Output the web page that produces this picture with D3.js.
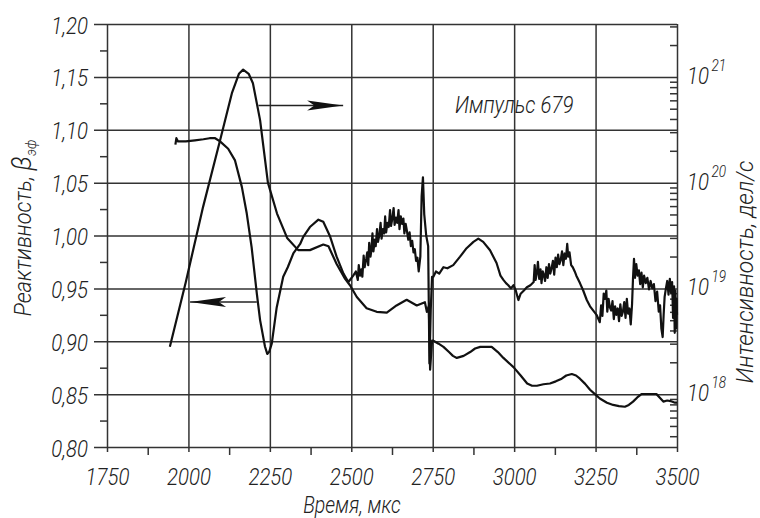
<!DOCTYPE html>
<html>
<head>
<meta charset="utf-8">
<script src="https://cdn.jsdelivr.net/npm/d3@7"></script>
<style>
  body { margin: 0; background: #fff; }
  svg text {
    font-family: Roboto, "DejaVu Sans", sans-serif;
    font-style: italic;
    font-weight: 300;
    fill: #222;
  }
  .tick line { stroke: #333; stroke-width: 1.5; }
  .domain { display: none; }
</style>
</head>
<body>
<div id="chart"></div>
<script>
// axis ticks
const xTicks = [1750, 2000, 2250, 2500, 2750, 3000, 3250, 3500];
const xMinor = [1875, 2125, 2375, 2625, 2875, 3125, 3375];
const yTicks = [0.80, 0.85, 0.90, 0.95, 1.00, 1.05, 1.10, 1.15, 1.20];
const yLabels = ["0,80", "0,85", "0,90", "0,95", "1,00", "1,05", "1,10", "1,15", "1,20"];
const yMinor = [0.825, 0.875, 0.925, 0.975, 1.025, 1.075, 1.125, 1.175];
const rightExp = [18, 19, 20, 21];

// reactivity (left axis): [time, beta]
const reactivity = [
  [1960, 1.086], [1963, 1.092], [1968, 1.089], [1992, 1.089], [2020, 1.090], [2046, 1.091],
  [2065, 1.092], [2082, 1.092], [2097, 1.089], [2122, 1.082], [2143, 1.071], [2164, 1.046],
  [2179, 1.021], [2194, 0.989], [2210, 0.945], [2220, 0.920], [2235, 0.895], [2242, 0.888],
  [2248, 0.890], [2256, 0.898], [2271, 0.932], [2291, 0.961], [2305, 0.970], [2322, 0.983],
  [2343, 0.992], [2353, 0.999], [2373, 1.008], [2399, 1.015], [2414, 1.013], [2435, 0.999],
  [2455, 0.980], [2476, 0.964], [2491, 0.956], [2506, 0.962], [2514, 0.966],
  [2520, 0.958], [2523, 0.972], [2527, 0.962], [2531, 0.968], [2534, 0.961], [2538, 0.981],
  [2541, 0.970], [2546, 0.978], [2549, 0.984], [2552, 0.972], [2555, 0.993], [2559, 0.980],
  [2562, 0.987], [2565, 1.002], [2568, 0.985], [2572, 0.996], [2575, 0.990], [2579, 1.006],
  [2582, 0.994], [2586, 1.000], [2590, 1.012], [2593, 0.997], [2597, 1.006], [2601, 1.002],
  [2604, 1.018], [2607, 1.003], [2611, 1.012], [2615, 1.008], [2619, 1.024], [2622, 1.009],
  [2626, 1.016], [2630, 1.026], [2633, 1.010], [2637, 1.017], [2641, 1.012], [2645, 1.024],
  [2648, 1.006], [2652, 1.018], [2656, 1.011], [2660, 1.016], [2663, 1.002], [2667, 1.011],
  [2671, 1.004], [2675, 0.996], [2679, 1.003], [2683, 0.990], [2687, 0.995], [2691, 0.984],
  [2695, 0.987], [2699, 0.976], [2703, 0.979], [2707, 0.966],
  [2712, 0.980], [2716, 1.037], [2720, 1.055], [2724, 1.020], [2730, 1.000], [2736, 0.990],
  [2740, 0.879], [2744, 0.930], [2748, 0.961], [2752, 0.961], [2760, 0.966], [2770, 0.964],
  [2783, 0.970], [2795, 0.969], [2813, 0.972], [2834, 0.980], [2854, 0.988], [2875, 0.994],
  [2890, 0.997], [2905, 0.994], [2926, 0.986], [2946, 0.974], [2958, 0.962], [2967, 0.958],
  [2975, 0.955], [2982, 0.953], [2990, 0.950], [2998, 0.953], [3005, 0.948], [3013, 0.939],
  [3020, 0.945], [3030, 0.948], [3039, 0.951], [3050, 0.953],
  [3060, 0.956], [3063, 0.972], [3066, 0.958], [3070, 0.965], [3073, 0.975], [3077, 0.959],
  [3081, 0.968], [3084, 0.955], [3088, 0.966], [3092, 0.962], [3095, 0.957], [3099, 0.970],
  [3103, 0.960], [3107, 0.973], [3111, 0.964], [3115, 0.969], [3119, 0.976], [3123, 0.963],
  [3127, 0.979], [3131, 0.970], [3135, 0.982], [3139, 0.973], [3143, 0.977], [3147, 0.985],
  [3151, 0.972], [3155, 0.983], [3159, 0.978], [3163, 0.992], [3166, 0.980], [3170, 0.984],
  [3175, 0.972], [3180, 0.970], [3186, 0.966], [3191, 0.962], [3202, 0.955], [3212, 0.948],
  [3223, 0.939], [3233, 0.933], [3243, 0.929], [3253, 0.925],
  [3263, 0.918], [3267, 0.934], [3271, 0.924], [3275, 0.945], [3279, 0.940], [3283, 0.948],
  [3286, 0.928], [3290, 0.940], [3294, 0.932], [3298, 0.929], [3302, 0.938], [3306, 0.921],
  [3310, 0.933], [3314, 0.925], [3318, 0.931], [3322, 0.919], [3326, 0.935], [3330, 0.924],
  [3334, 0.928], [3338, 0.937], [3342, 0.922], [3346, 0.940], [3350, 0.926], [3354, 0.931],
  [3358, 0.916], [3362, 0.935], [3365, 0.960], [3368, 0.978], [3371, 0.960], [3375, 0.973],
  [3379, 0.962], [3383, 0.967], [3387, 0.954], [3391, 0.965], [3395, 0.951], [3399, 0.962],
  [3404, 0.955], [3409, 0.960], [3414, 0.949], [3419, 0.957], [3424, 0.950], [3429, 0.954],
  [3434, 0.938], [3439, 0.947], [3444, 0.928], [3448, 0.934], [3452, 0.912], [3456, 0.904],
  [3459, 0.925], [3462, 0.942], [3466, 0.950], [3470, 0.957], [3474, 0.944], [3478, 0.959],
  [3482, 0.946], [3485, 0.956], [3488, 0.922], [3491, 0.952], [3493, 0.908], [3495, 0.948],
  [3497, 0.912], [3499, 0.940], [3500, 0.925]
];

// intensity (right axis, log): [time, counts per second]
const intensity = [
  [1943, 2.8e18], [1992, 1.15e19], [2045, 5.9e19], [2097, 2.5e20], [2134, 7.1e20],
  [2155, 1.07e21], [2168, 1.17e21], [2185, 1.07e21], [2198, 8.7e20], [2220, 3.9e20],
  [2244, 1.0e20], [2272, 5.1e19], [2303, 3.0e19], [2337, 2.3e19], [2373, 2.3e19],
  [2414, 2.6e19], [2430, 2.5e19], [2455, 1.7e19], [2481, 1.23e19], [2496, 1.07e19],
  [2517, 8.3e18], [2547, 6.5e18], [2578, 6.0e18], [2609, 5.9e18], [2639, 6.9e18],
  [2670, 7.8e18], [2701, 6.9e18], [2726, 7.4e18], [2732, 6.0e18], [2738, 6.8e18],
  [2742, 1.7e18], [2748, 3.2e18], [2752, 3.2e18], [2768, 3.0e18], [2783, 2.8e18],
  [2800, 2.5e18], [2812, 2.3e18], [2824, 2.2e18], [2845, 2.3e18], [2865, 2.5e18],
  [2880, 2.7e18], [2896, 2.8e18], [2931, 2.8e18], [2950, 2.5e18], [2967, 2.2e18],
  [2998, 1.8e18], [3020, 1.5e18], [3040, 1.26e18], [3055, 1.2e18], [3070, 1.2e18],
  [3090, 1.24e18], [3110, 1.26e18], [3128, 1.32e18], [3146, 1.4e18], [3160, 1.5e18],
  [3177, 1.55e18], [3190, 1.5e18], [3202, 1.4e18], [3218, 1.25e18], [3233, 1.1e18],
  [3248, 1.0e18], [3263, 9.1e17], [3285, 8.3e17], [3304, 7.9e17], [3322, 7.7e17],
  [3340, 7.6e17], [3352, 7.9e17], [3365, 8.5e17], [3378, 9.3e17], [3391, 1.0e18],
  [3410, 1.0e18], [3437, 1.0e18], [3448, 9.2e17], [3458, 8.5e17], [3470, 8.7e17],
  [3480, 8.6e17], [3494, 8.3e17], [3500, 8.3e17]
];

const svg = d3.select("#chart").append("svg")
  .attr("width", 760)
  .attr("height", 518);

const plotLeft = 107, plotRight = 677, plotTop = 24, plotBottom = 447;

const x = d3.scaleLinear().domain([1750, 3500]).range([plotLeft, plotRight]);
const y = d3.scaleLinear().domain([0.80, 1.20]).range([plotBottom, plotTop]);
const yR = d3.scaleLog().domain([Math.pow(10, 17.5), Math.pow(10, 21.5)]).range([plotBottom, plotTop]);

// vertical grid + x labels
const gx = svg.append("g")
  .attr("transform", `translate(0,${plotBottom})`)
  .call(d3.axisBottom(x).tickValues(xTicks).tickSize(5).tickFormat(d => d));
gx.selectAll(".tick line").attr("y1", plotTop - plotBottom);
gx.selectAll(".tick text")
  .attr("y", null).attr("dy", null)
  .attr("transform", "translate(0,38) scale(0.85,1)")
  .style("font-size", "24px");

svg.append("g")
  .attr("transform", `translate(0,${plotBottom})`)
  .call(d3.axisBottom(x).tickValues(xMinor).tickSize(8).tickFormat(""));

// horizontal grid + y labels
const gy = svg.append("g")
  .attr("transform", `translate(${plotLeft},0)`)
  .call(d3.axisLeft(y).tickValues(yTicks).tickSize(13).tickFormat((d, i) => yLabels[i]));
gy.selectAll(".tick line").attr("x1", plotRight - plotLeft);
gy.selectAll(".tick text")
  .attr("x", null).attr("dy", null)
  .attr("transform", "translate(-19,9) scale(0.85,1)")
  .style("font-size", "24px");

svg.append("g")
  .attr("transform", `translate(${plotLeft},0)`)
  .call(d3.axisLeft(y).tickValues(yMinor).tickSize(7).tickFormat(""));

// right log axis, minor ticks inward
const logMinor = [];
for (let k = 17; k <= 21; k++) {
  for (let m = 2; m <= 9; m++) {
    const v = m * Math.pow(10, k);
    if (v > yR.domain()[0] && v < yR.domain()[1]) logMinor.push(v);
  }
}
svg.append("g")
  .attr("transform", `translate(${plotRight},0)`)
  .call(d3.axisRight(yR).tickValues(logMinor).tickSize(-7).tickFormat(""));

const rl = svg.append("g").selectAll("text")
  .data(rightExp)
  .enter().append("text")
  .attr("transform", d => `translate(687,${yR(Math.pow(10, d)) + 7}) scale(0.85,1)`)
  .style("font-size", "24px");
rl.append("tspan").text("10");
rl.append("tspan")
  .attr("dx", 3).attr("dy", -13)
  .style("font-size", "16px")
  .text(d => d);

// curves
const lineA = d3.line()
  .x(d => x(d[0]))
  .y(d => y(d[1]));
svg.append("path")
  .datum(reactivity)
  .attr("d", lineA)
  .attr("fill", "none")
  .attr("stroke", "#111")
  .attr("stroke-width", 2.2)
  .attr("stroke-linejoin", "round");

const lineB = d3.line()
  .x(d => x(d[0]))
  .y(d => yR(d[1]));
svg.append("path")
  .datum(intensity)
  .attr("d", lineB)
  .attr("fill", "none")
  .attr("stroke", "#111")
  .attr("stroke-width", 2.2)
  .attr("stroke-linejoin", "round");

// arrows pointing to the axes
function arrow(t0, t1, r, dir) {
  const ay = y(r);
  const tip = x(t1);
  svg.append("line")
    .attr("x1", x(t0)).attr("x2", tip)
    .attr("y1", ay).attr("y2", ay)
    .attr("stroke", "#222").attr("stroke-width", 1.5);
  const len = 36 * dir;
  svg.append("path")
    .attr("d", `M${tip},${ay} L${tip - len},${ay - 5} L${tip - len * 0.8},${ay} L${tip - len},${ay + 5} Z`)
    .attr("fill", "#111");
}
arrow(2215, 2475, 1.123, 1);
arrow(2210, 2005, 0.937, -1);

svg.append("text")
  .attr("transform", `translate(${x(3000)},${y(1.116)}) scale(0.85,1)`)
  .attr("text-anchor", "middle")
  .style("font-size", "24px")
  .text("Импульс 679");

// axis titles
svg.append("text")
  .attr("transform", `translate(352,513) scale(0.85,1)`)
  .attr("text-anchor", "middle")
  .style("font-size", "23px")
  .text("Время, мкс");

const lt = svg.append("text")
  .attr("transform", `translate(31,228) rotate(-90) scale(0.95,1)`)
  .attr("text-anchor", "middle")
  .style("font-size", "23px");
lt.append("tspan").text("Реактивность, ");
lt.append("tspan").style("font-size", "27px").text("β");
lt.append("tspan").attr("dy", 5).style("font-size", "14px").text("эф");

svg.append("text")
  .attr("transform", `translate(753,272) rotate(-90) scale(0.95,1)`)
  .attr("text-anchor", "middle")
  .style("font-size", "24px")
  .text("Интенсивность, дел/с");
</script>
</body>
</html>
